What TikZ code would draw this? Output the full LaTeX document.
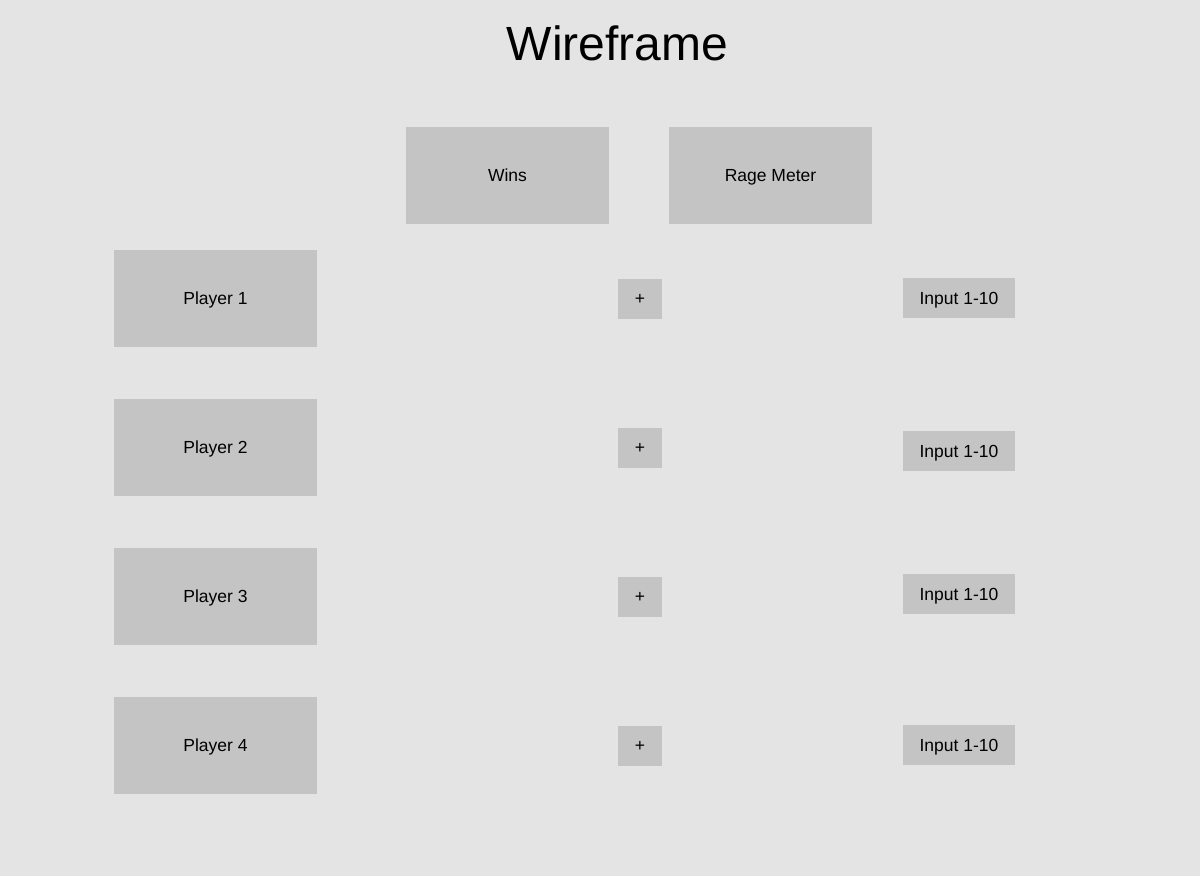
\documentclass[tikz,border=0pt]{standalone}
\usepackage{fontspec}
\setmainfont{Liberation Sans}
\usetikzlibrary{positioning}

\definecolor{pagegray}{HTML}{E4E4E4}
\definecolor{boxgray}{HTML}{C4C4C4}

\begin{document}
\begin{tikzpicture}[%
        x = 1pt, y = -1pt,
        bigbox/.style = {%
            fill = boxgray,
            minimum width = 203pt,
            minimum height = 97pt,
            inner sep = 0pt,
            text height = 12.5pt,
            text depth = 0pt,
            font = \fontsize{17.5}{20}\selectfont
        },
        smallbox/.style = {%
            fill = boxgray,
            minimum height = 40pt,
            inner sep = 0pt,
            text height = 12.5pt,
            text depth = 0pt,
            font = \fontsize{17.5}{20}\selectfont
        }
    ]

        % The page and its margins.
        \fill[pagegray] (0, 0) rectangle (1200, 876);
        \useasboundingbox (0, 0) rectangle (1200, 876);

        % The heading.
        \node (title) at (617.5, 43) {\fontsize{48}{54}\selectfont Wireframe};

        % The boxes along the top.
        \node[bigbox] (wins) at (507.5, 175.5) {Wins};
        \node[bigbox] (rage) at (770.5, 175.5) {Rage Meter};

        % One row for every player.
        \foreach \n/\py/\iy in {1/298.5/298, 2/447.5/451, 3/596.5/594, 4/745.5/745}{%
            \node[bigbox] (player\n) at (215.5, \py) {Player \n};
            \node[smallbox, minimum width = 44pt] (plus\n) at (640, \py) {+};
            \node[smallbox, minimum width = 112pt] (input\n) at (959, \iy) {Input 1-10};
        }
    \end{tikzpicture}
\end{document}
